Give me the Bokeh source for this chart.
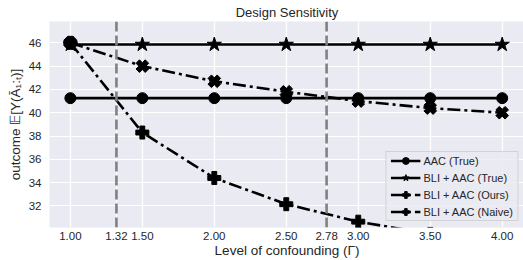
from bokeh.plotting import figure
from bokeh.models import Span, Legend, LegendItem, FixedTicker, Title, Range1d
from bokeh.embed import file_html
from bokeh.resources import INLINE

gamma = [1.0, 1.5, 2.0, 2.5, 3.0, 3.5, 4.0]
aac_true = [41.25, 41.25, 41.25, 41.25, 41.25, 41.25, 41.25]
bli_true = [45.85, 45.85, 45.85, 45.85, 45.85, 45.85, 45.85]
bli_ours = [46.0, 44.0, 42.7, 41.8, 41.0, 40.4, 40.0]
bli_naive = [46.0, 38.3, 34.4, 32.15, 30.65, 29.6, 28.8]
design_points = [1.32, 2.78]
x_ticks = [1.0, 1.32, 1.5, 2.0, 2.5, 2.78, 3.0, 3.5, 4.0]
y_ticks = [32, 34, 36, 38, 40, 42, 44, 46]

TXT = "#262626"
FONT = "Liberation Sans"

p = figure(frame_width=475, frame_height=206, output_backend="svg", toolbar_location=None,
           x_range=Range1d(0.855, 4.155), y_range=Range1d(30.15, 47.83),
           min_border_left=49, min_border_right=0, min_border_top=17, min_border_bottom=4)
p.background_fill_color = "#eaeaf2"
p.border_fill_color = "white"
p.outline_line_color = None
p.grid.grid_line_color = "white"
p.grid.grid_line_width = 1.2
p.xgrid.ticker = FixedTicker(ticks=x_ticks)
p.ygrid.ticker = FixedTicker(ticks=y_ticks)

p.add_layout(Title(text="Design Sensitivity", align="center", text_font=FONT,
                   text_font_size="13px", text_font_style="normal",
                   text_color=TXT, standoff=4, offset=0), "above")

for ax in (p.xaxis[0], p.yaxis[0]):
    ax.axis_line_color = None
    ax.major_tick_line_color = None
    ax.minor_tick_line_color = None
    ax.major_tick_out = 0
    ax.major_tick_in = 0
    ax.major_label_text_font = FONT
    ax.major_label_text_font_size = "11.5px"
    ax.major_label_text_color = TXT
    ax.axis_label_text_font = FONT
    ax.axis_label_text_font_size = "13.5px"
    ax.axis_label_text_font_style = "normal"
    ax.axis_label_text_color = TXT

p.xaxis.ticker = FixedTicker(ticks=x_ticks)
p.xaxis.major_label_overrides = {t: f"{t:.2f}" for t in x_ticks}
p.xaxis.axis_label = "Level of confounding (Γ)"
p.xaxis.major_label_standoff = 4
p.xaxis.axis_label_standoff = 0
p.yaxis.ticker = FixedTicker(ticks=y_ticks)
p.yaxis.axis_label = "outcome 𝔼[Y(Ā₁:ₜ)]"
p.yaxis.major_label_standoff = 8
p.yaxis.axis_label_standoff = 3

for d in design_points:
    p.add_layout(Span(location=d, dimension="height", line_color="#808080",
                      line_width=2.6, line_dash="10 4"))

K = "black"
lw = 2.6
dd = "13 4 3 4"
r1l = p.line(gamma, aac_true, line_color=K, line_width=lw)
r1m = p.scatter(gamma, aac_true, marker="circle", size=11, color=K)
r2l = p.line(gamma, bli_true, line_color=K, line_width=lw)
r2m = p.scatter(gamma, bli_true, marker="star", size=15, color=K)
r3l = p.line(gamma, bli_ours, line_color=K, line_width=lw, line_dash=dd)
r3m = p.scatter(gamma, bli_ours, marker="plus", size=13, angle=0.785398, color=K)
r4l = p.line(gamma, bli_naive, line_color=K, line_width=lw, line_dash=dd)
r4m = p.scatter(gamma, bli_naive, marker="plus", size=13, color=K)

legend = Legend(items=[
    LegendItem(label="AAC (True)", renderers=[r1l, r1m]),
    LegendItem(label="BLI + AAC (True)", renderers=[r2l, r2m]),
    LegendItem(label="BLI + AAC (Ours)", renderers=[r3l, r3m]),
    LegendItem(label="BLI + AAC (Naive)", renderers=[r4l, r4m]),
], location="bottom_right")
legend.background_fill_color = "#eaeaf2"
legend.background_fill_alpha = 0.8
legend.border_line_color = "#cccccc"
legend.border_line_alpha = 0.8
legend.label_text_font = FONT
legend.label_text_font_size = "11px"
legend.label_text_color = TXT
legend.glyph_width = 30
legend.glyph_height = 17
legend.label_height = 14
legend.spacing = 0
legend.padding = (4, 0)
legend.margin = 6
legend.label_standoff = 3
p.add_layout(legend, "center")

open("out.html", "w").write(file_html(p, INLINE))
